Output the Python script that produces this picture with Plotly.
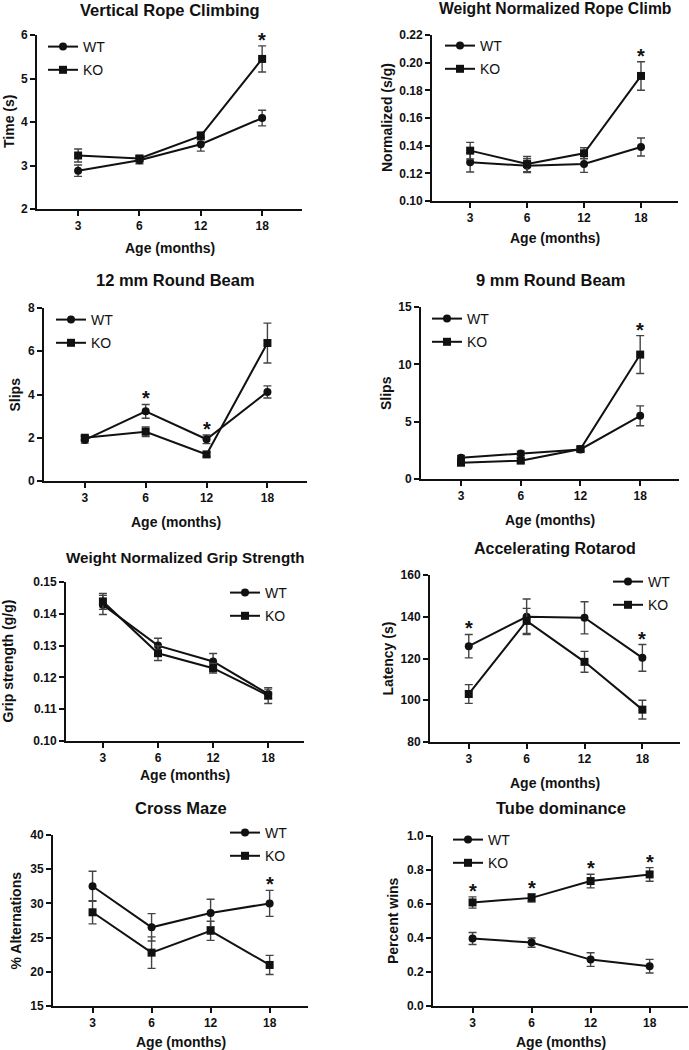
import plotly.graph_objects as go

W, H = 689, 1050
ages = ["3", "6", "12", "18"]
series_names = ["WT", "KO"]

# ---- data (mean, SEM) ----
rope_wt = [2.88, 3.12, 3.49, 4.09]
rope_wt_err = [0.13, 0.08, 0.16, 0.18]
rope_ko = [3.23, 3.16, 3.68, 5.45]
rope_ko_err = [0.15, 0.07, 0.09, 0.30]

normrope_wt = [0.128, 0.1255, 0.1267, 0.139]
normrope_wt_err = [0.007, 0.005, 0.006, 0.0065]
normrope_ko = [0.1364, 0.1267, 0.1345, 0.1904]
normrope_ko_err = [0.006, 0.0055, 0.004, 0.0103]

beam12_wt = [1.9, 3.22, 1.93, 4.12]
beam12_wt_err = [0.15, 0.32, 0.2, 0.28]
beam12_ko = [2.0, 2.28, 1.23, 6.38]
beam12_ko_err = [0.1, 0.22, 0.1, 0.92]

beam9_wt = [1.86, 2.23, 2.58, 5.51]
beam9_wt_err = [0.2, 0.2, 0.2, 0.87]
beam9_ko = [1.42, 1.6, 2.61, 10.85]
beam9_ko_err = [0.2, 0.2, 0.2, 1.65]

grip_wt = [0.1428, 0.130, 0.125, 0.1148]
grip_wt_err = [0.003, 0.0023, 0.0025, 0.0015]
grip_ko = [0.1439, 0.1276, 0.1229, 0.1143]
grip_ko_err = [0.0025, 0.0023, 0.0015, 0.0025]

rotarod_wt = [125.9, 140.0, 139.5, 120.3]
rotarod_wt_err = [5.6, 8.5, 7.7, 6.4]
rotarod_ko = [103.0, 138.0, 118.4, 95.5]
rotarod_ko_err = [4.5, 6.0, 5.0, 4.5]

maze_wt = [32.5, 26.5, 28.6, 30.0]
maze_wt_err = [2.2, 2.0, 2.0, 1.9]
maze_ko = [28.7, 22.8, 26.0, 21.0]
maze_ko_err = [1.7, 2.3, 1.4, 1.4]

tube_wt = [0.397, 0.373, 0.273, 0.234]
tube_wt_err = [0.035, 0.027, 0.04, 0.04]
tube_ko = [0.609, 0.636, 0.735, 0.774]
tube_ko_err = [0.033, 0.025, 0.04, 0.04]

titles = ["Vertical Rope Climbing", "Weight Normalized Rope Climb",
          "12 mm Round Beam", "9 mm Round Beam",
          "Weight Normalized Grip Strength", "Accelerating Rotarod",
          "Cross Maze", "Tube dominance"]
ytitles = ["Time (s)", "Normalized (s/g)", "Slips", "Slips",
           "Grip strength (g/g)", "Latency (s)", "% Alternations", "Percent wins"]
xtitle = "Age (months)"
star_ages = [["18"], ["18"], ["6", "12"], ["18"], [], ["3", "18"], ["18"], ["3", "6", "12", "18"]]

data = [
    (rope_wt, rope_wt_err, rope_ko, rope_ko_err),
    (normrope_wt, normrope_wt_err, normrope_ko, normrope_ko_err),
    (beam12_wt, beam12_wt_err, beam12_ko, beam12_ko_err),
    (beam9_wt, beam9_wt_err, beam9_ko, beam9_ko_err),
    (grip_wt, grip_wt_err, grip_ko, grip_ko_err),
    (rotarod_wt, rotarod_wt_err, rotarod_ko, rotarod_ko_err),
    (maze_wt, maze_wt_err, maze_ko, maze_ko_err),
    (tube_wt, tube_wt_err, tube_ko, tube_ko_err),
]

# ---- layout / style (pixels) ----
yranges = [(2, 6, 1, "d"), (0.10, 0.22, 0.02, ".2f"), (0, 8, 2, "d"), (0, 15, 5, "d"),
           (0.10, 0.15, 0.01, ".2f"), (80, 160, 20, "d"), (15, 40, 5, "d"), (0, 1.0, 0.2, ".1f")]
dom_x = [(37, 302), (432, 678), (44, 307), (421, 679), (66, 304), (430, 680), (53, 308), (433, 688)]
dom_y = [(35, 209), (35, 201), (308, 481), (307, 479), (582, 741), (575, 742), (835, 1006), (836, 1006)]
title_y = [10, 9, 280, 280, 557, 548, 808, 808]
title_size = [16.5, 15.7, 16.5, 16.5, 15.2, 16, 16.5, 16.5]
xtitle_y = [248, 238, 522, 520, 775, 783, 1042, 1042]
ytitle_x = [9, 387, 15, 386, 7, 387, 15, 393]
legend_marker = [(63, 47), (460, 46), (71, 320), (447, 319), (245, 593), (628, 582), (245, 833), (468, 840)]

FONT = "Liberation Sans, Arial, sans-serif"
INK = "#111111"

fig = go.Figure()
annotations = []
layout = {}

for i in range(8):
    n = i + 1
    suf = "" if n == 1 else str(n)
    xa, ya = "x" + suf, "y" + suf
    lg = "legend" + suf
    wt, wte, ko, koe = data[i]
    for name, vals, errs, sym in [("WT", wt, wte, "circle"), ("KO", ko, koe, "square")]:
        fig.add_trace(go.Scatter(
            x=ages, y=vals, name=name, mode="lines+markers",
            xaxis=xa, yaxis=ya, legend=lg, legendgroup=name + suf,
            line=dict(color=INK, width=2),
            marker=dict(symbol=sym, size=8, color=INK),
            error_y=dict(type="data", array=errs, visible=True,
                         color="#444444", thickness=1.4, width=4),
        ))
    x0, x1 = dom_x[i]
    y0, y1 = dom_y[i]
    lo, hi, dt, fmt = yranges[i]
    layout["xaxis" + suf] = dict(
        domain=[x0 / W, x1 / W], anchor=ya, type="category",
        categoryorder="array", categoryarray=ages,
        range=[-0.67, 3.65], showline=True, linewidth=2, linecolor=INK,
        ticks="outside", ticklen=5, tickwidth=2, tickcolor=INK,
        tickfont=dict(family=FONT, size=12, color=INK, weight="bold"),
        showgrid=False, zeroline=False, fixedrange=True, automargin=False,
    )
    layout["yaxis" + suf] = dict(
        domain=[1 - y1 / H, 1 - y0 / H], anchor=xa,
        range=[lo, hi], tick0=lo, dtick=dt, tickformat=fmt,
        showline=True, linewidth=2, linecolor=INK,
        ticks="outside", ticklen=5, tickwidth=2, tickcolor=INK,
        tickfont=dict(family=FONT, size=12, color=INK, weight="bold"),
        showgrid=False, zeroline=False, fixedrange=True, automargin=False,
    )
    mx, my = legend_marker[i]
    layout[lg] = dict(
        x=(mx - 20) / W, y=1 - (my - 16) / H, xanchor="left", yanchor="top",
        bgcolor="rgba(0,0,0,0)", borderwidth=0,
        font=dict(family=FONT, size=14, color=INK),
        tracegroupgap=2, itemwidth=30,
    )
    cx = (x0 + x1) / 2
    annotations.append(dict(text=titles[i], xref="paper", yref="paper",
                            x=cx / W, y=1 - title_y[i] / H, xanchor="center", yanchor="middle",
                            showarrow=False,
                            font=dict(family=FONT, size=title_size[i], color=INK, weight="bold")))
    annotations.append(dict(text=xtitle, xref="paper", yref="paper",
                            x=cx / W, y=1 - xtitle_y[i] / H, xanchor="center", yanchor="middle",
                            showarrow=False,
                            font=dict(family=FONT, size=14, color=INK, weight="bold")))
    annotations.append(dict(text=ytitles[i], xref="paper", yref="paper", textangle=-90,
                            x=ytitle_x[i] / W, y=1 - (y0 + y1) / 2 / H,
                            xanchor="center", yanchor="middle", showarrow=False,
                            font=dict(family=FONT, size=14, color=INK, weight="bold")))
    for a in star_ages[i]:
        k = ages.index(a)
        top = max(wt[k] + wte[k], ko[k] + koe[k])
        annotations.append(dict(text="*", xref=xa, yref=ya, x=k, y=top,
                                xanchor="center", yanchor="middle", yshift=6,
                                showarrow=False,
                                font=dict(family=FONT, size=20, color=INK, weight="bold")))

fig.update_layout(
    width=W, height=H, margin=dict(l=0, r=0, t=0, b=0, autoexpand=False),
    paper_bgcolor="white", plot_bgcolor="white",
    font=dict(family=FONT, color=INK),
    annotations=annotations, showlegend=True,
    **layout,
)

fig.write_html("out.html", config={"displayModeBar": False},
               post_script="document.body.style.margin='0';document.body.style.overflow='hidden';")
